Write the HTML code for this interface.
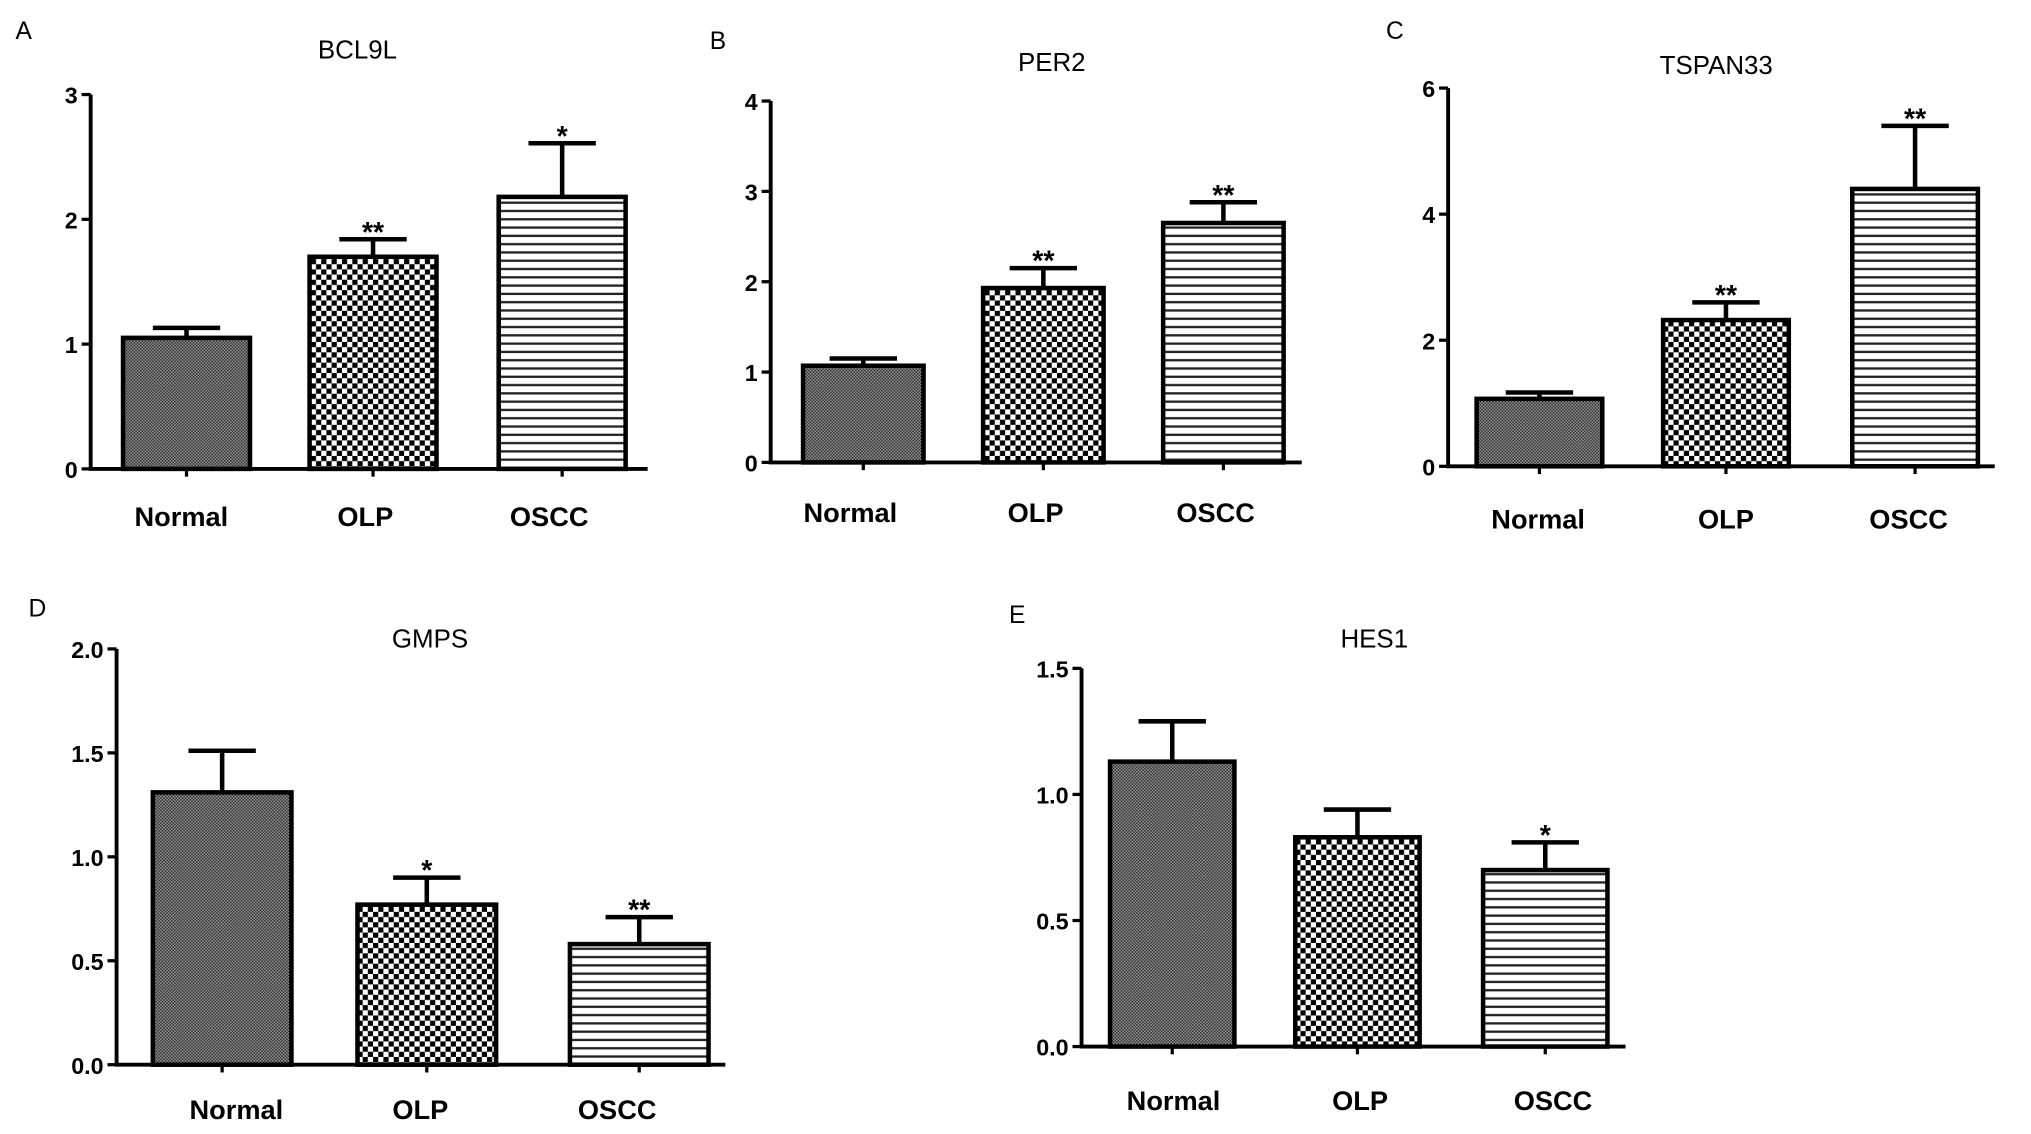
<!DOCTYPE html>
<html><head><meta charset="utf-8"><style>
html,body{margin:0;padding:0;background:#fff;}
svg{display:block;font-family:"Liberation Sans",Arial,sans-serif;}
</style></head><body>
<svg id="fig" width="2031" height="1134" viewBox="0 0 1568 875.5" preserveAspectRatio="none" xmlns="http://www.w3.org/2000/svg">
<defs>
<pattern id="pNormal" width="2.4" height="2.4" patternUnits="userSpaceOnUse"><rect width="2.4" height="2.4" fill="#9a9a9a"/><rect width="1.2" height="1.2" fill="#2a2a2a"/><rect x="1.2" y="1.2" width="1.2" height="1.2" fill="#2a2a2a"/></pattern>
<pattern id="pOLP" width="8" height="8" patternUnits="userSpaceOnUse"><rect width="8" height="8" fill="#fff"/><rect x="0" y="0" width="4" height="4" fill="#000"/><rect x="4" y="4" width="4" height="4" fill="#000"/></pattern>
<pattern id="pOSCC" width="10" height="6.4" patternUnits="userSpaceOnUse"><rect width="10" height="6.4" fill="#fff"/><rect y="2" width="10" height="1.8" fill="#222"/></pattern>
</defs>
</svg>
<script>
const categories = ["Normal","OLP","OSCC"];
const titles = ["BCL9L","PER2","TSPAN33","GMPS","HES1"];
const letters = ["A","B","C","D","E"];
const valuesA = [1.05,1.70,2.18]; const errA = [0.08,0.14,0.43]; const starsA = ["","**","*"];
const valuesB = [1.07,1.93,2.65]; const errB = [0.08,0.22,0.23]; const starsB = ["","**","**"];
const valuesC = [1.07,2.32,4.40]; const errC = [0.10,0.28,1.00]; const starsC = ["","**","**"];
const valuesD = [1.31,0.77,0.58]; const errD = [0.20,0.13,0.13]; const starsD = ["","*","**"];
const valuesE = [1.13,0.83,0.70]; const errE = [0.16,0.11,0.11]; const starsE = ["","","*"];
const ticksA = [0,1,2,3], tickLabA = ["0","1","2","3"];
const ticksB = [0,1,2,3,4], tickLabB = ["0","1","2","3","4"];
const ticksC = [0,2,4,6], tickLabC = ["0","2","4","6"];
const ticksD = [0,0.5,1,1.5,2], tickLabD = ["0.0","0.5","1.0","1.5","2.0"];
const ticksE = [0,0.5,1,1.5], tickLabE = ["0.0","0.5","1.0","1.5"];

const panels = [
 {ax:70,y0:362,yt:73,ymax:3,xend:500,bx:[95,239,385],bw:98,lo:[-4,-6,-10],tx:276,ty:38,lx:12,ly:22,cy:398,v:valuesA,e:errA,s:starsA,t:ticksA,tl:tickLabA},
 {ax:595,y0:357,yt:78,ymax:4,xend:1005,bx:[620,759,898],bw:93,lo:[-10,-6,-6],tx:812,ty:48,lx:548,ly:30,cy:395,v:valuesB,e:errB,s:starsB,t:ticksB,tl:tickLabB},
 {ax:1118,y0:360,yt:68,ymax:6,xend:1540,bx:[1140,1284,1430],bw:97,lo:[-1,0,-5],tx:1325,ty:50,lx:1070,ly:22,cy:400,v:valuesC,e:errC,s:starsC,t:ticksC,tl:tickLabC},
 {ax:90,y0:822,yt:501,ymax:2,xend:560,bx:[118,276,440],bw:107,lo:[11,-5,-17],tx:332,ty:493,lx:22,ly:468,cy:856,v:valuesD,e:errD,s:starsD,t:ticksD,tl:tickLabD},
 {ax:835,y0:808,yt:516,ymax:1.5,xend:1255,bx:[857,1000,1145],bw:96,lo:[1,2,6],tx:1061,ty:493,lx:779,ly:473,cy:849,v:valuesE,e:errE,s:starsE,t:ticksE,tl:tickLabE}
];
const fills=["url(#pNormal)","url(#pOLP)","url(#pOSCC)"];
const NS="http://www.w3.org/2000/svg";
const svg=document.getElementById('fig');
function mk(tag,attrs,parent){const el=document.createElementNS(NS,tag);for(const k in attrs)el.setAttribute(k,attrs[k]);(parent||svg).appendChild(el);return el;}
panels.forEach((p,i)=>{
 const g=mk('g',{});
 
 
 const y=v=>p.y0-(v/p.ymax)*(p.y0-p.yt);
 const L=mk('text',{x:p.lx,y:p.ly+8,'font-size':19},g);L.textContent=letters[i];
 
 
 const T=mk('text',{x:p.tx,y:p.ty+7,'font-size':20,'text-anchor':'middle'},g);T.textContent=titles[i];
 
 
 p.v.forEach((v,j)=>{
  const x=p.bx[j],cx=x+p.bw/2,top=y(v),et=y(v+p.e[j]);
  const b=mk('rect',{x:x,y:top,width:p.bw,height:p.y0-top,fill:fills[j],stroke:'#000','stroke-width':3.5},g);
  
  
  const eb=mk('path',{d:`M${cx} ${top}V${et}M${cx-26} ${et}H${cx+26}`,stroke:'#000','stroke-width':3.5,fill:'none'},g);
  
  
  if(p.s[j]){const st=mk('text',{x:cx,y:et+2,'font-size':22,'font-weight':'bold','text-anchor':'middle'},g);st.textContent=p.s[j];
   
   }
  mk('line',{x1:cx,x2:cx,y1:p.y0,y2:p.y0+6,stroke:'#000','stroke-width':2.5},g);
  const c=mk('text',{x:cx+p.lo[j],y:p.cy+8,'font-size':21,'font-weight':'bold','text-anchor':'middle'},g);c.textContent=categories[j];
  
  
 });
 const axes=mk('path',{d:`M${p.ax} ${p.yt}V${p.y0}H${p.xend}`,stroke:'#000','stroke-width':3,fill:'none'},g);
 
 
 p.t.forEach((t,k)=>{
  const ty=y(t);
  mk('line',{x1:p.ax-7,x2:p.ax,y1:ty,y2:ty,stroke:'#000','stroke-width':2.5},g);
  const tl=mk('text',{x:p.ax-10,y:ty+7,'font-size':18,'font-weight':'bold','text-anchor':'end'},g);tl.textContent=p.tl[k];
  
  
 });
});
</script>
</body></html>
